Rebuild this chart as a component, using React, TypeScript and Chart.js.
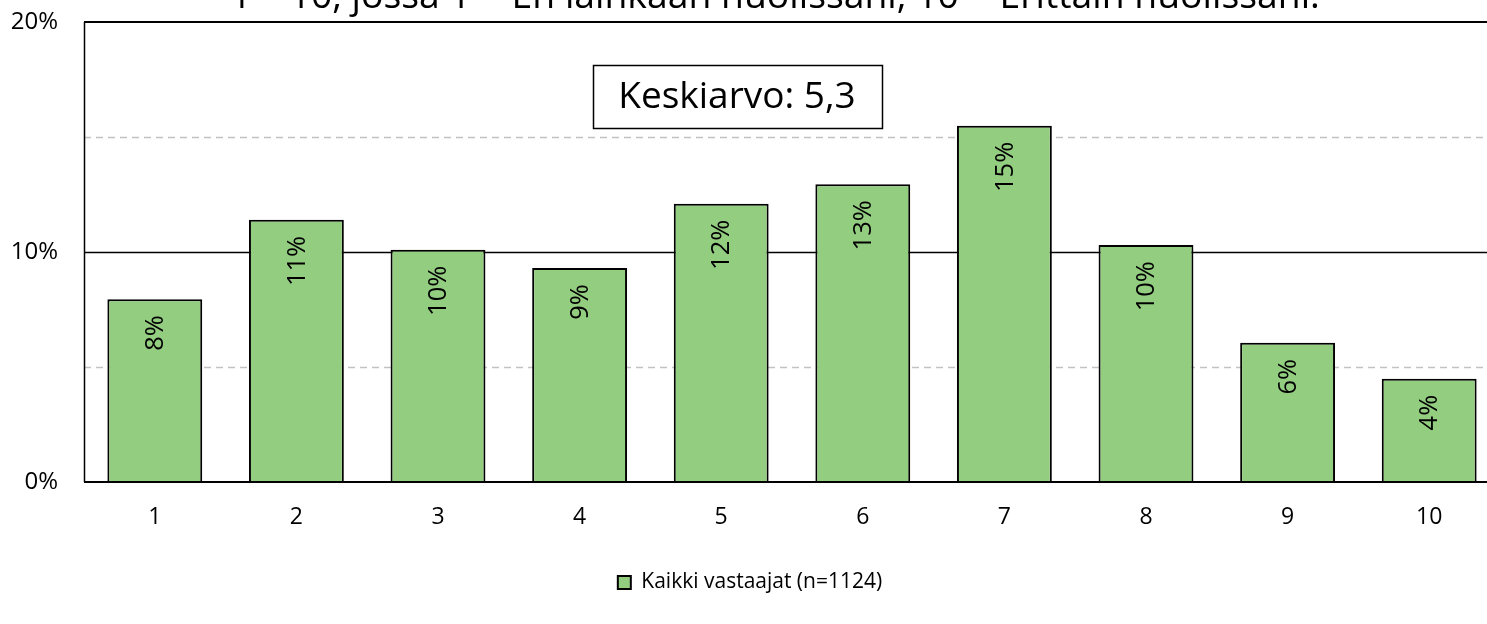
import React, { useEffect, useRef } from "react";
import { Chart, registerables } from "chart.js";

Chart.register(...registerables);

const categories = ["1", "2", "3", "4", "5", "6", "7", "8", "9", "10"];
const seriesName = "Kaikki vastaajat (n=1124)";
const seriesValues = [7.95, 11.4, 10.1, 9.3, 12.1, 12.95, 15.49, 10.3, 6.05, 4.49];
const yTickValues = [0, 10, 20];
const solidGridValues = [10, 20];
const dashedGridValues = [5, 15];
const titleText = "1 – 10, jossa 1 = En lainkaan huolissani, 10 = Erittäin huolissani.";
const meanText = "Keskiarvo: 5,3";

const FONT = "'Open Sans', 'Noto Sans', sans-serif";
const GREEN = "#93cd80";
const OFFSET_TOP = 20;

const customPlugin = {
  id: "custom",
  beforeDatasetsDraw(chart: any) {
    const { ctx, chartArea, scales } = chart;
    const y = scales.y;
    ctx.save();
    ctx.setLineDash([7, 5]);
    ctx.strokeStyle = "#c2c2c2";
    ctx.lineWidth = 1.7;
    dashedGridValues.forEach((v) => {
      const py = Math.round(y.getPixelForValue(v)) + 0.5;
      ctx.beginPath();
      ctx.moveTo(chartArea.left, py);
      ctx.lineTo(chartArea.right, py);
      ctx.stroke();
    });
    ctx.setLineDash([]);
    ctx.strokeStyle = "#000";
    solidGridValues.forEach((v) => {
      const py = Math.round(y.getPixelForValue(v)) + (v === 20 ? 0 : 0.5);
      ctx.lineWidth = v === 20 ? 2 : 1.5;
      ctx.beginPath();
      ctx.moveTo(chartArea.left, py);
      ctx.lineTo(chartArea.right, py);
      ctx.stroke();
    });
    ctx.lineWidth = 1.5;
    ctx.beginPath();
    ctx.moveTo(chartArea.left + 0.5, chartArea.top);
    ctx.lineTo(chartArea.left + 0.5, chartArea.bottom);
    ctx.stroke();
    ctx.restore();
  },
  afterDatasetsDraw(chart: any) {
    const { ctx, chartArea, scales } = chart;
    const y = scales.y;
    ctx.save();
    ctx.strokeStyle = "#000";
    ctx.lineWidth = 2;
    const py0 = Math.round(y.getPixelForValue(0));
    ctx.beginPath();
    ctx.moveTo(chartArea.left, py0);
    ctx.lineTo(chartArea.right, py0);
    ctx.stroke();

    // data labels
    const meta = chart.getDatasetMeta(0);
    ctx.fillStyle = "#000";
    ctx.font = `25.5px ${FONT}`;
    ctx.textAlign = "right";
    ctx.textBaseline = "middle";
    meta.data.forEach((el: any, i: number) => {
      ctx.save();
      ctx.translate(el.x, el.y + 16);
      ctx.rotate(-Math.PI / 2);
      ctx.fillText(Math.round(seriesValues[i]) + "%", 0, 1);
      ctx.restore();
    });

    // mean box
    const x = scales.x;
    const cx = (x.getPixelForValue(4) + x.getPixelForValue(5)) / 2 - 55;
    const cy = y.getPixelForValue(16.75);
    const bw = 289;
    const bh = 63;
    ctx.fillStyle = "#fff";
    ctx.fillRect(cx - bw / 2, cy - bh / 2, bw, bh);
    ctx.strokeStyle = "#000";
    ctx.lineWidth = 1.5;
    ctx.strokeRect(Math.round(cx - bw / 2) + 0.5, Math.round(cy - bh / 2) + 0.5, bw, bh);
    ctx.fillStyle = "#000";
    ctx.font = `37px ${FONT}`;
    ctx.textAlign = "center";
    ctx.textBaseline = "middle";
    ctx.fillText(meanText, cx, cy + 1);

    // title (partially clipped at top)
    let size = 33;
    ctx.font = `${size}px ${FONT}`;
    const w = ctx.measureText(titleText).width;
    size = (size * 1090) / w;
    ctx.font = `${size}px ${FONT}`;
    ctx.textAlign = "center";
    ctx.textBaseline = "alphabetic";
    ctx.fillText(titleText, 775, OFFSET_TOP + 8);
    ctx.restore();
  },
};

export default function App() {
  const ref = useRef<HTMLCanvasElement | null>(null);
  useEffect(() => {
    if (!ref.current) return;
    const chart = new Chart(ref.current, {
      type: "bar",
      data: {
        labels: categories,
        datasets: [
          {
            label: seriesName,
            data: seriesValues,
            backgroundColor: GREEN,
            borderColor: "#000",
            borderWidth: 2,
            barPercentage: 0.67,
            categoryPercentage: 1,
          },
        ],
      },
      options: {
        animation: false,
        responsive: false,
        devicePixelRatio: 1,
        layout: { padding: { left: 0, right: 20, top: 42, bottom: 21 } },
        scales: {
          x: {
            grid: { display: false, drawTicks: false },
            border: { display: false },
            ticks: { color: "#000", font: { family: FONT, size: 23 }, padding: 22 },
            afterFit: (s: any) => {
              s.height = 80;
            },
          },
          y: {
            min: 0,
            max: 20,
            grid: { display: false, drawTicks: false },
            border: { display: false },
            afterBuildTicks: (s: any) => {
              s.ticks = yTickValues.map((v) => ({ value: v }));
            },
            ticks: {
              color: "#000",
              font: { family: FONT, size: 24 },
              padding: 26,
              callback: (v: any) => v + "%",
            },
            afterFit: (s: any) => {
              s.width = 84;
            },
          },
        },
        plugins: {
          legend: {
            position: "bottom",
            labels: {
              color: "#000",
              boxWidth: 13,
              boxHeight: 13,
              padding: 10,
              font: { family: FONT, size: 21 },
            },
          },
          tooltip: { enabled: false },
        },
      },
      plugins: [customPlugin],
    });
    return () => chart.destroy();
  }, []);
  return (
    <div
      style={{
        position: "fixed",
        left: 0,
        top: 0,
        width: 1487,
        height: 624,
        overflow: "hidden",
        background: "#fff",
      }}
    >
      <canvas
        ref={ref}
        width={1520}
        height={644}
        style={{ position: "absolute", left: 0, top: -OFFSET_TOP, width: 1520, height: 644 }}
      />
    </div>
  );
}
